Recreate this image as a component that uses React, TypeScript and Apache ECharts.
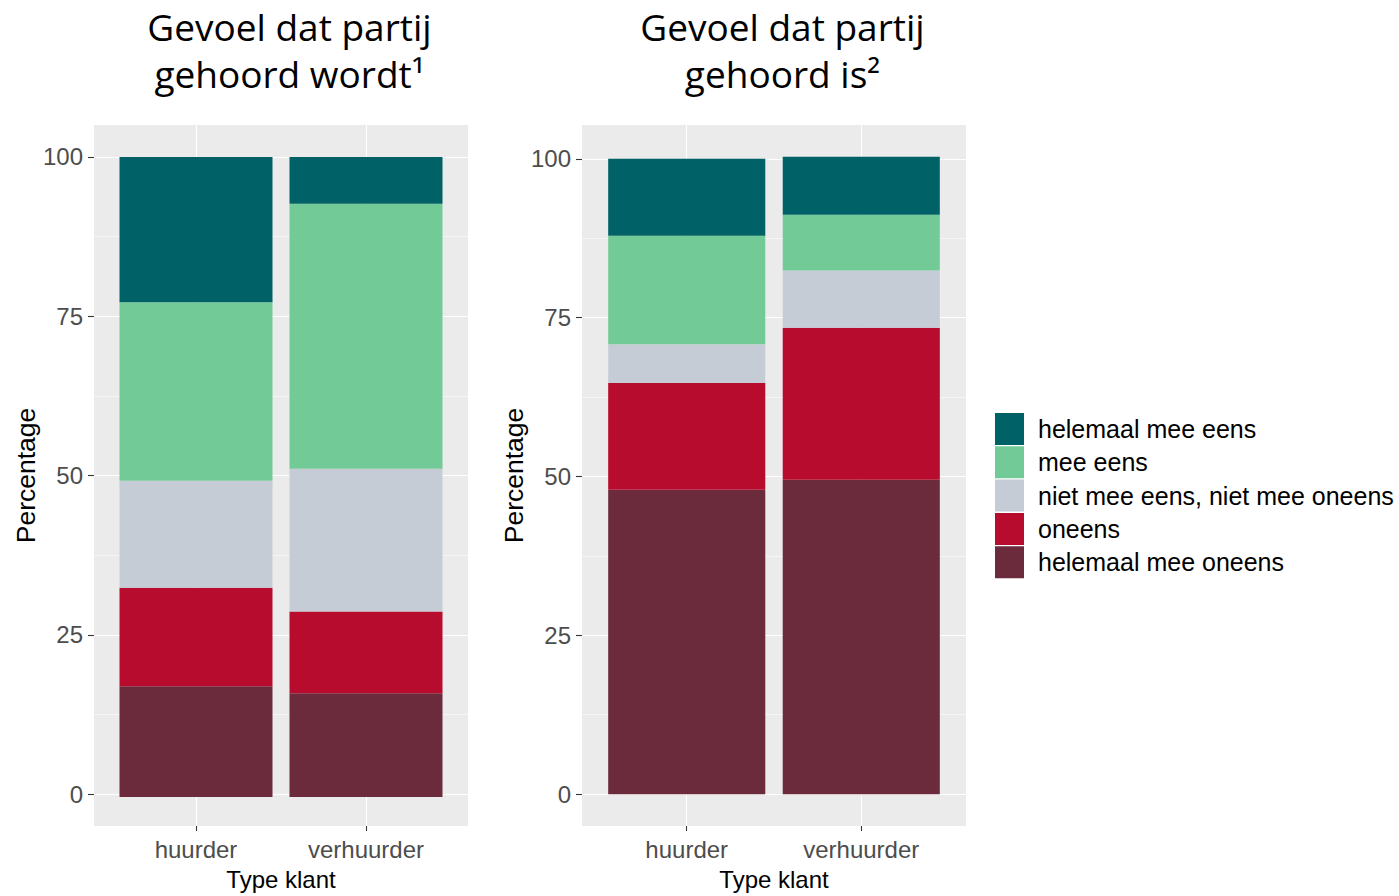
import React, { useEffect, useRef } from 'react';
import * as echarts from 'echarts';

// Categories and response levels (bottom of the stack first)
const categories = ['huurder', 'verhuurder'];
const responses = [
  'helemaal mee oneens',
  'oneens',
  'niet mee eens, niet mee oneens',
  'mee eens',
  'helemaal mee eens',
];
const colors = ['#6C2B3D', '#B80C2F', '#C5CCD5', '#72CB97', '#006266'];

// Panel 1: Gevoel dat partij gehoord wordt (huurder, verhuurder)
const wordtHelemaalOneens = [17.3, 16.2];
const wordtOneens = [15.4, 12.8];
const wordtNeutraal = [16.7, 22.3];
const wordtEens = [27.9, 41.4];
const wordtHelemaalEens = [22.7, 7.3];

// Panel 2: Gevoel dat partij gehoord is (huurder, verhuurder)
const isHelemaalOneens = [47.9, 49.5];
const isOneens = [16.8, 23.9];
const isNeutraal = [6.1, 9.0];
const isEens = [17.1, 8.8];
const isHelemaalEens = [12.1, 9.1];

const yTicks = [0, 25, 50, 75, 100];
const yMinorTicks = [12.5, 37.5, 62.5, 87.5];
const titles = ['Gevoel dat partij\ngehoord wordt\u00B9', 'Gevoel dat partij\ngehoord is\u00B2'];
const xTitle = 'Type klant';
const yTitle = 'Percentage';

const panelData = [
  [wordtHelemaalOneens, wordtOneens, wordtNeutraal, wordtEens, wordtHelemaalEens],
  [isHelemaalOneens, isOneens, isNeutraal, isEens, isHelemaalEens],
];

const ARIAL = 'Arial, "Liberation Sans", sans-serif';

const panels = [
  { left: 94, top: 125, width: 374, height: 704, titleX: 289.5 },
  { left: 582, top: 125, width: 384, height: 701, titleX: 782.5 },
];

export default function App() {
  const ref = useRef<HTMLDivElement>(null);

  useEffect(() => {
    document.body.style.margin = '0';
    if (!ref.current) return;
    const chart = echarts.init(ref.current, null, { renderer: 'svg' });

    const grids: any[] = [];
    const xAxes: any[] = [];
    const yAxes: any[] = [];
    const series: any[] = [];
    const xCustom = categories.map((_, i) => i + 1);
    const nCat = categories.length;

    panels.forEach((p, pi) => {
      const data = panelData[pi];
      const totals = categories.map((_, ci) => data.reduce((s, arr) => s + arr[ci], 0));
      const maxTotal = Math.max(...totals);
      const yMin = -0.05 * maxTotal;
      const yMax = maxTotal * 1.05;
      const band = p.width / (nCat + 0.2);

      // Panel grid (background, gridlines, ticks, labels)
      const gA = grids.length;
      grids.push({
        left: p.left,
        top: p.top,
        width: p.width,
        height: p.height,
        show: true,
        backgroundColor: '#EBEBEB',
        borderWidth: 0,
      });
      // Bars grid (covers the category bands only)
      const gB = grids.length;
      grids.push({
        left: p.left + 0.1 * band,
        top: p.top,
        width: band * nCat,
        height: p.height,
        show: false,
      });

      xAxes.push({
        type: 'value',
        gridIndex: gA,
        min: 0.4,
        max: nCat + 0.6,
        axisLine: { show: false, onZero: false },
        axisTick: {
          show: true,
          customValues: xCustom,
          length: 5,
          lineStyle: { color: '#333333', width: 1.1 },
        },
        axisLabel: {
          customValues: xCustom,
          formatter: (v: number) => categories[Math.round(v) - 1] ?? '',
          color: '#4D4D4D',
          fontSize: 24,
          fontFamily: ARIAL,
          margin: 11,
        },
        splitLine: { show: true, lineStyle: { color: '#FFFFFF', width: 1.1 } },
        name: xTitle,
        nameLocation: 'middle',
        nameGap: 41,
        nameTextStyle: { color: '#000000', fontSize: 24, fontFamily: ARIAL },
      });
      const xB = xAxes.length;
      xAxes.push({
        type: 'category',
        gridIndex: gB,
        data: categories,
        show: false,
      });

      const yMain = yAxes.length;
      yAxes.push({
        type: 'value',
        gridIndex: gA,
        min: yMin,
        max: yMax,
        position: 'left',
        axisLine: { show: false, onZero: false },
        axisTick: {
          show: true,
          customValues: yTicks,
          length: 6,
          lineStyle: { color: '#333333', width: 1.1 },
        },
        axisLabel: {
          customValues: yTicks,
          color: '#4D4D4D',
          fontSize: 24,
          fontFamily: ARIAL,
          margin: 11,
        },
        splitLine: { show: true, lineStyle: { color: '#FFFFFF', width: 1.1 } },
        name: yTitle,
        nameLocation: 'middle',
        nameGap: 55,
        nameTextStyle: { color: '#000000', fontSize: 26.5, fontFamily: ARIAL },
      });
      yAxes.push({
        type: 'value',
        gridIndex: gA,
        min: yMin,
        max: yMax,
        position: 'left',
        axisLine: { show: false, onZero: false },
        axisTick: { show: false, customValues: yMinorTicks },
        axisLabel: { show: false, customValues: yMinorTicks },
        splitLine: { show: true, lineStyle: { color: '#FFFFFF', width: 0.55 } },
      });
      const yB = yAxes.length;
      yAxes.push({
        type: 'value',
        gridIndex: gB,
        min: yMin,
        max: yMax,
        show: false,
        splitLine: { show: false },
      });

      data.forEach((arr, ri) => {
        series.push({
          type: 'bar',
          name: responses[ri],
          xAxisIndex: xB,
          yAxisIndex: yB,
          stack: 'panel' + pi,
          barWidth: '90%',
          data: arr,
          itemStyle: { color: colors[ri] },
        });
      });
      void yMain;
    });

    chart.setOption({
      animation: false,
      grid: grids,
      xAxis: xAxes,
      yAxis: yAxes,
      series,
      legend: {
        orient: 'vertical',
        left: 995,
        top: 413,
        padding: 0,
        itemWidth: 29,
        itemHeight: 32,
        itemGap: 1.3,
        icon: 'rect',
        selectedMode: false,
        data: responses.slice().reverse(),
        textStyle: {
          fontSize: 25,
          color: '#000000',
          fontFamily: ARIAL,
          padding: [0, 0, 0, 9],
        },
      },
      graphic: panels.map((p, pi) => ({
        type: 'text',
        x: p.titleX,
        y: 50,
        style: {
          text: titles[pi],
          fill: '#000000',
          fontSize: 37,
          fontFamily: '"Open Sans", sans-serif',
          align: 'center',
          verticalAlign: 'middle',
          lineHeight: 47,
        },
      })),
    });

    return () => {
      chart.dispose();
    };
  }, []);

  return <div ref={ref} style={{ width: 1399, height: 896 }} />;
}
